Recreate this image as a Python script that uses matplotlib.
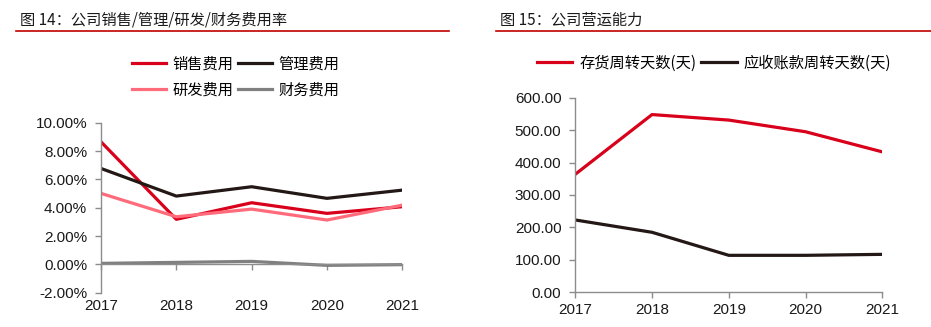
import matplotlib
matplotlib.use('Agg')
import matplotlib.pyplot as plt
from matplotlib.lines import Line2D
import matplotlib.transforms as mtransforms

plt.rcParams['font.family'] = ['Liberation Sans', 'Noto Sans CJK SC', 'DejaVu Sans']

years = ['2017', '2018', '2019', '2020', '2021']

# 图14 费用率 (%)
sales_rate = [8.65, 3.18, 4.35, 3.60, 4.07]
admin_rate = [6.77, 4.82, 5.48, 4.66, 5.24]
rd_rate = [5.01, 3.36, 3.90, 3.13, 4.18]
fin_rate = [0.07, 0.14, 0.21, -0.07, -0.02]
rate_labels = ['销售费用', '管理费用', '研发费用', '财务费用']

# 图15 营运能力 (天)
inventory_days = [364, 548, 531, 495, 433]
receivable_days = [223, 185, 114, 114, 117]
days_labels = ['存货周转天数(天)', '应收账款周转天数(天)']

RED = '#D9001B'
BLACK = '#231815'
PINK = '#FF6B7A'
GRAY = '#808080'
TXT = '#1a1a1a'
SPINE = '#8c8c8c'

W, H = 931, 327
fig = plt.figure(figsize=(W / 100, H / 100), dpi=100)


def fx(px):
    return px / W


def fy(py):
    return 1 - py / H


def style_axes(ax):
    for s in ['top', 'right']:
        ax.spines[s].set_visible(False)
    for s in ['left', 'bottom']:
        ax.spines[s].set_color(SPINE)
        ax.spines[s].set_linewidth(1.0)
    ax.tick_params(axis='y', direction='out', length=4, width=1, color=SPINE,
                   labelsize=11, labelcolor=TXT, pad=6)
    ax.tick_params(axis='x', direction='out', length=4, width=1, color=SPINE,
                   labelsize=11, labelcolor=TXT)


# titles and red rules
cjk = ['Noto Sans CJK SC', 'Liberation Sans']
fig.text(fx(20), fy(20), '图 14：公司销售/管理/研发/财务费用率', fontsize=11,
         color=TXT, va='center', ha='left', family=cjk)
fig.add_artist(Line2D([fx(16), fx(449)], [fy(31), fy(31)], color='#C00000', lw=1.2))
fig.text(fx(500), fy(20), '图 15：公司营运能力', fontsize=11,
         color=TXT, va='center', ha='left', family=cjk)
fig.add_artist(Line2D([fx(496), fx(931)], [fy(31), fy(31)], color='#C00000', lw=1.2))

# ---- left chart
ax1 = fig.add_axes([fx(101), fy(292.7), fx(402.3 - 101), (292.7 - 122.7) / H])
x = list(range(len(years)))
l1, = ax1.plot(x, sales_rate, color=RED, lw=2.3, label=rate_labels[0])
l2, = ax1.plot(x, admin_rate, color=BLACK, lw=2.3, label=rate_labels[1])
l3, = ax1.plot(x, rd_rate, color=PINK, lw=2.3, label=rate_labels[2])
l4, = ax1.plot(x, fin_rate, color=GRAY, lw=2.3, label=rate_labels[3])
ax1.set_xlim(0, 4)
ax1.set_ylim(-2, 10)
ax1.set_yticks([-2, 0, 2, 4, 6, 8, 10])
ax1.set_yticklabels(['%.2f%%' % v for v in [-2, 0, 2, 4, 6, 8, 10]])
style_axes(ax1)
ax1.spines['bottom'].set_position(('data', 0))
ax1.set_xticks(x)
ax1.set_xticklabels([])
trans = mtransforms.blended_transform_factory(ax1.transData, ax1.transAxes)
for i, yr in enumerate(years):
    ax1.text(i, -0.04, yr, transform=trans, ha='center', va='top',
             fontsize=11, color=TXT)

# column-major fill: order so rows read 销售/管理, 研发/财务
fig.legend(handles=[l1, l3, l2, l4], ncol=2, loc='center',
           bbox_to_anchor=(fx(236), fy(77)), frameon=False,
           prop={'family': ['Noto Sans CJK SC'], 'size': 11},
           handlelength=2.2, handletextpad=0.45, columnspacing=0.3,
           labelspacing=0.6)

# ---- right chart
ax2 = fig.add_axes([fx(575.3), fy(292.3), fx(882.3 - 575.3), (292.3 - 97.7) / H])
m1, = ax2.plot(x, inventory_days, color=RED, lw=2.3, label=days_labels[0])
m2, = ax2.plot(x, receivable_days, color=BLACK, lw=2.3, label=days_labels[1])
ax2.set_xlim(0, 4)
ax2.set_ylim(0, 600)
ax2.set_yticks(range(0, 601, 100))
ax2.set_yticklabels(['%.2f' % v for v in range(0, 601, 100)])
style_axes(ax2)
ax2.set_xticks(x)
ax2.set_xticklabels(years)

fig.legend(handles=[m1, m2], ncol=2, loc='center',
           bbox_to_anchor=(fx(714), fy(63)), frameon=False,
           prop={'family': ['Noto Sans CJK SC'], 'size': 11},
           handlelength=2.3, handletextpad=0.45, columnspacing=0.35)

fig.savefig('out.png', dpi=100)
